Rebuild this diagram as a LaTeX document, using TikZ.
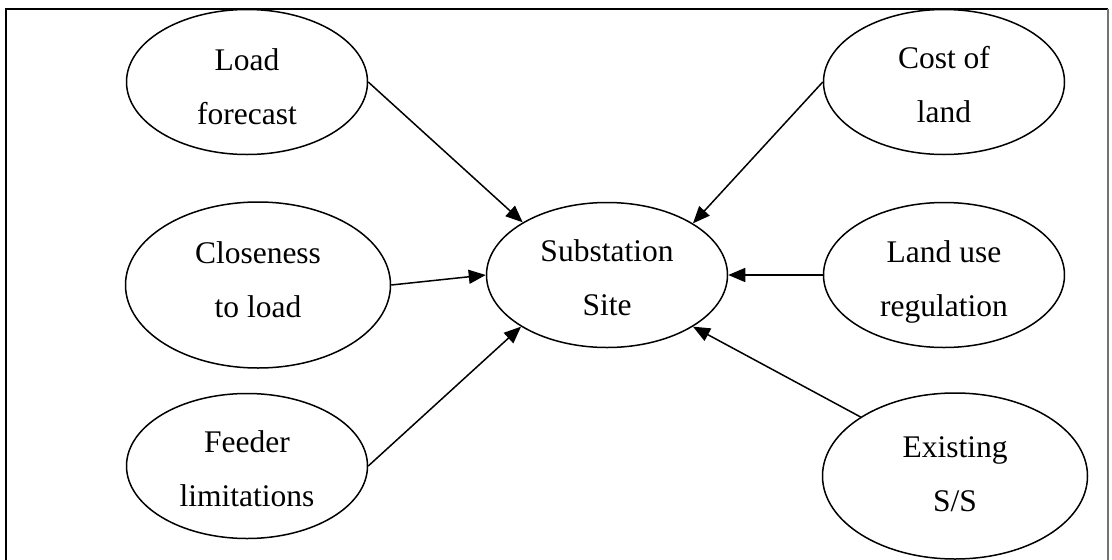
\documentclass[tikz,border=0pt]{standalone}
\usepackage{fontspec}
\setmainfont{Liberation Serif}
\usetikzlibrary{arrows.meta,shapes.geometric}
% two centred lines; first baseline raised by #1 above the node centre
\newcommand\duo[3][13]{\smash{\makebox[0pt]{\raisebox{#1pt}{#2}}\makebox[0pt]{\raisebox{\dimexpr#1pt-54pt\relax}{#3}}}}
\tikzset{
  bub/.style={ellipse, draw, line width=1.5pt, inner sep=0pt,
    minimum width=241pt, minimum height=145pt,
    font=\fontsize{31.5}{54}\selectfont},
  bigbub/.style={bub, minimum width=265pt, minimum height=166pt},
  feed/.style={line width=1.5pt, -{Triangle[length=17pt,width=14pt]}},
  frame/.style={line width=1.8pt}
}
\begin{document}
\begin{tikzpicture}[x=1pt,y=-1pt]
\useasboundingbox (0,0) rectangle (1112,560);
% outer frame (runs past the lower edge)
\draw[frame] (6,560) -- (6,9) -- (1108,9);
\draw[frame, draw=black!55, line width=1.4pt] (1108,9) -- (1108,560);

% central node
\node[bub] (site) at (607,275) {\duo[14]{Substation}{Site}};

% factors on the left
\node[bub] (load) at (247,82) {\duo[12]{Load}{forecast}};
\node[bigbub] (close) at (258,285) {\duo[22]{Closeness}{to load}};
\node[bub] (feeder) at (247,466) {\duo[14]{Feeder}{limitations}};

% factors on the right
\node[bub] (cost) at (944,82) {\duo[14]{Cost of}{land}};
\node[bub] (landuse) at (944,275) {\duo[13]{Land use}{regulation}};
\node[bigbub] (exist) at (955,476) {\duo[19]{Existing}{S/S}};

% influences on the site
\draw[feed] (load.east) -- (site.148);
\draw[feed] (close.east) -- (site.west);
\draw[feed] (feeder.east) -- (site.211);
\draw[feed] (cost.west) -- (site.31);
\draw[feed] (landuse.west) -- (site.east);
\draw[feed] (exist.148) -- (site.329);
\end{tikzpicture}
\end{document}
